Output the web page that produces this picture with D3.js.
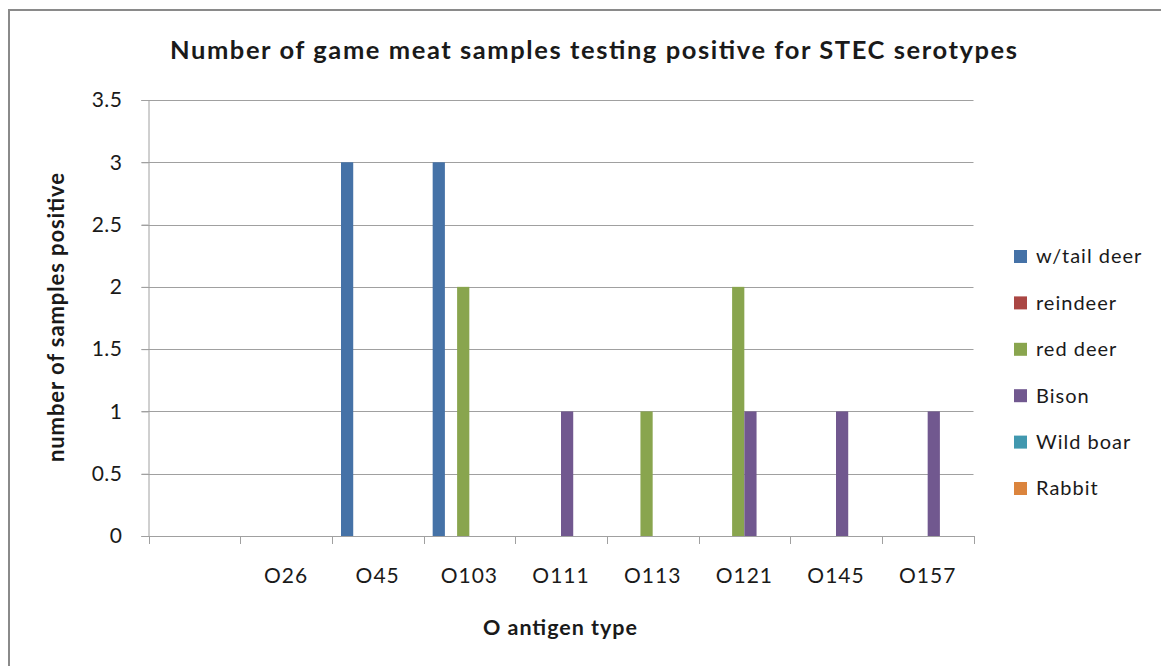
<!DOCTYPE html>
<html>
<head>
<meta charset="utf-8">
<script src="https://cdn.jsdelivr.net/npm/d3@7"></script>
<style>
  html, body { margin: 0; padding: 0; background: #fff; }
  svg { display: block; }
  text { font-family: Lato, "Open Sans", sans-serif; fill: #1a1a1a; }
</style>
</head>
<body>
<svg id="chart" width="1161" height="666"></svg>
<script>
const categories = ["", "O26", "O45", "O103", "O111", "O113", "O121", "O145", "O157"];
const seriesNames = ["w/tail deer", "reindeer", "red deer", "Bison", "Wild boar", "Rabbit"];
const wtailDeer = [0, 0, 3, 3, 0, 0, 0, 0, 0];
const reindeer  = [0, 0, 0, 0, 0, 0, 0, 0, 0];
const redDeer   = [0, 0, 0, 2, 0, 1, 2, 0, 0];
const bison     = [0, 0, 0, 0, 1, 0, 1, 1, 1];
const wildBoar  = [0, 0, 0, 0, 0, 0, 0, 0, 0];
const rabbit    = [0, 0, 0, 0, 0, 0, 0, 0, 0];
const yTicks = [0, 0.5, 1, 1.5, 2, 2.5, 3, 3.5];
const colors = ["#4572A7", "#AA4643", "#89A54E", "#71588F", "#4198AF", "#DB843D"];

const seriesValues = [wtailDeer, reindeer, redDeer, bison, wildBoar, rabbit];

const svg = d3.select("#chart");
svg.append("rect").attr("width", 1161).attr("height", 666).attr("fill", "#fff");
svg.append("rect").attr("x", 9).attr("y", 10).attr("width", 1300).attr("height", 800)
  .attr("fill", "none").attr("stroke", "#8a8a8a").attr("stroke-width", 2);

const pLeft = 148.5, pRight = 973.5, pTop = 100, pBottom = 536;
const x = d3.scaleBand().domain(categories).range([pLeft, pRight]).padding(0);
const xs = d3.scaleBand().domain(d3.range(seriesNames.length)).range([0, x.bandwidth()])
  .paddingInner(0).paddingOuter(0.75);
const y = d3.scaleLinear().domain([0, 3.5]).range([pBottom, pTop]);

const grid = "#a0a0a0";
// gridlines
svg.append("g").selectAll("line").data(yTicks).join("line")
  .attr("x1", pLeft - 7).attr("x2", pRight)
  .attr("y1", d => Math.round(y(d)) + 0.5).attr("y2", d => Math.round(y(d)) + 0.5)
  .attr("stroke", grid).attr("stroke-width", 1);

// bars
const groups = svg.append("g").selectAll("g").data(seriesValues).join("g")
  .attr("fill", (d, i) => colors[i]);
groups.selectAll("rect").data((vals, si) => vals.map((v, ci) => ({v, ci, si}))).join("rect")
  .attr("x", d => x(categories[d.ci]) + xs(d.si))
  .attr("width", xs.bandwidth())
  .attr("y", d => y(d.v))
  .attr("height", d => y(0) - y(d.v));

// y axis
const yAxis = svg.append("g").attr("transform", `translate(${pLeft},0)`)
  .call(d3.axisLeft(y).tickValues(yTicks).tickSize(7).tickPadding(19).tickFormat(d3.format("")));
yAxis.select(".domain").attr("stroke", grid);
yAxis.selectAll(".tick line").attr("stroke", grid);
yAxis.selectAll("text").attr("font-size", 21).attr("fill", "#1a1a1a")
  .style("font-family", "Lato").style("letter-spacing", "0.5px");

// x axis
const xAxis = svg.append("g").attr("transform", `translate(0,${pBottom})`)
  .call(d3.axisBottom(x).tickSize(0).tickPadding(32));
xAxis.select(".domain").attr("stroke", grid);
xAxis.selectAll("text").attr("font-size", 21).attr("fill", "#1a1a1a")
  .style("font-family", "Lato").style("letter-spacing", "1px");
// category boundary ticks
const bounds = categories.map(c => x(c)).concat([pRight]);
svg.append("g").selectAll("line").data(bounds).join("line")
  .attr("x1", d => Math.round(d) + 0.5).attr("x2", d => Math.round(d) + 0.5)
  .attr("y1", pBottom).attr("y2", pBottom + 8)
  .attr("stroke", grid);

// titles
svg.append("text").attr("x", 170).attr("y", 59)
  .attr("font-size", 25.5).attr("font-weight", "bold")
  .attr("textLength", 847).attr("lengthAdjust", "spacing")
  .text("Number of game meat samples testing positive for STEC serotypes");
svg.append("text").attr("transform", "translate(64,462) rotate(-90)")
  .attr("font-size", 22).attr("font-weight", "bold")
  .attr("textLength", 289).attr("lengthAdjust", "spacing")
  .text("number of samples positive");
svg.append("text").attr("x", 483).attr("y", 635)
  .attr("font-size", 21.5).attr("font-weight", "bold")
  .attr("textLength", 154).attr("lengthAdjust", "spacing")
  .text("O antigen type");

// legend
const legend = svg.append("g").selectAll("g").data(seriesNames).join("g")
  .attr("transform", (d, i) => `translate(1014,${250 + i * 46.4})`);
legend.append("rect").attr("x", 0).attr("y", 0).attr("width", 13).attr("height", 13)
  .attr("fill", (d, i) => colors[i]);
legend.append("text").attr("x", 22).attr("y", 13.3).attr("font-size", 20)
  .style("letter-spacing", "1px").text(d => d);
</script>
</body>
</html>
